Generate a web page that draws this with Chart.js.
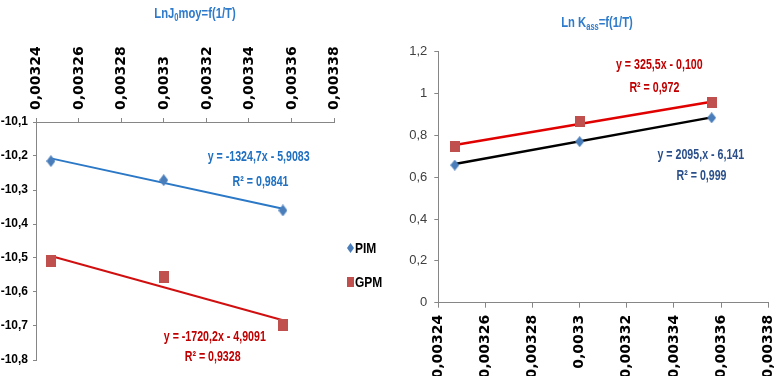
<!DOCTYPE html>
<html>
<head>
<meta charset="utf-8">
<script src="https://cdn.jsdelivr.net/npm/chart.js@4/dist/chart.umd.min.js"></script>
<style>
  html, body { margin: 0; padding: 0; background: #fff; width: 784px; height: 376px; overflow: hidden; }
  #wrap { position: relative; width: 784px; height: 376px; }
  canvas { position: absolute; top: 0; }
  #c1 { left: 0; }
  #c2 { left: 392px; }
  .title { position: absolute; transform: translate(-50%, -50%) scaleX(0.75); white-space: nowrap;
           font-family: 'Liberation Sans', Arial, sans-serif;
           font-weight: bold; font-size: 15px; color: #2E7BCB; }
  .title sub { font-size: 10px; vertical-align: -3px; }
  .leg { position: absolute; font-family: 'Liberation Sans', Arial, sans-serif; transform: scaleX(0.8); transform-origin: 0 50%;
         font-weight: bold; font-size: 15px; color: #000; line-height: 16px; }
  .mk { position: absolute; }
</style>
</head>
<body>
<div id="wrap">
  <canvas id="c1" width="395" height="376"></canvas>
  <canvas id="c2" width="400" height="376"></canvas>
  <div class="title" style="left:195px; top:13px;">LnJ<sub>0</sub>moy=f(1/T)</div>
  <div class="title" style="left:597px; top:22px;">Ln K<sub>ass</sub>=f(1/T)</div>
  <svg class="mk" style="left:347px; top:243px;" width="7" height="10"><polygon points="3.5,0 7,5 3.5,10 0,5" fill="#4A7EBB"/></svg>
  <div class="leg" style="left:355px; top:240px;">PIM</div>
  <svg class="mk" style="left:347px; top:277px;" width="7" height="10"><rect x="0" y="0" width="7" height="10" fill="#C0504D"/></svg>
  <div class="leg" style="left:355px; top:274px;">GPM</div>
</div>
<script>
// ---- data ----
const invT = [0.003247, 0.0033, 0.003356];            // 1/T
const xTicks = [0.00324, 0.00326, 0.00328, 0.0033, 0.00332, 0.00334, 0.00336, 0.00338];

// Left chart: LnJ0moy = f(1/T)
const pimLnJ0 = [-10.215, -10.271, -10.36];
const gpmLnJ0 = [-10.51, -10.557, -10.697];
const pimLnJ0Trend = [-10.207, -10.355];
const gpmLnJ0Trend = [-10.494, -10.683];
const leftYTicks = [-10.1, -10.2, -10.3, -10.4, -10.5, -10.6, -10.7, -10.8];

// Right chart: Ln Kass = f(1/T)
const pimLnK = [0.658, 0.77, 0.884];
const gpmLnK = [0.748, 0.868, 0.958];
const pimLnKTrend = [0.663, 0.886];
const gpmLnKTrend = [0.754, 0.961];
const rightYTicks = [0, 0.2, 0.4, 0.6, 0.8, 1, 1.2];

const seriesNames = ['PIM', 'GPM'];
const eqLeft = ['y = -1324,7x - 5,9083', 'R² = 0,9841', 'y = -1720,2x - 4,9091', 'R² = 0,9328'];
const eqRight = ['y = 325,5x - 0,100', 'R² = 0,972', 'y = 2095,x - 6,141', 'R² = 0,999'];

// ---- helpers ----
const sans = "'Liberation Sans', Arial, sans-serif";
const wide = "'DejaVu Sans', Verdana, sans-serif";
function diamond(w, h, color) {
  const c = document.createElement('canvas'); c.width = w; c.height = h;
  const g = c.getContext('2d');
  g.beginPath(); g.moveTo(w / 2, 0); g.lineTo(w, h / 2); g.lineTo(w / 2, h); g.lineTo(0, h / 2); g.closePath();
  g.fillStyle = color; g.fill();
  return c;
}
function square(w, h, color) {
  const c = document.createElement('canvas'); c.width = w; c.height = h;
  const g = c.getContext('2d'); g.fillStyle = color; g.fillRect(0, 0, w, h);
  return c;
}
const pts = (ys) => invT.map((x, i) => ({ x: x, y: ys[i] }));
const trend = (ys) => [{ x: invT[0], y: ys[0] }, { x: invT[invT.length - 1], y: ys[1] }];
const fmtX = (v) => String(Number(Number(v).toFixed(5))).replace('.', ',');
const fmtY = (v) => String(Number(Number(v).toFixed(1))).replace('.', ',');

function labelPlugin(labels) {
  return {
    id: 'eqLabels',
    afterDatasetsDraw(chart) {
      const { ctx, scales } = chart;
      labels.forEach(l => {
        ctx.save();
        ctx.font = 'bold 14px ' + sans;
        ctx.textAlign = 'center';
        ctx.textBaseline = 'middle';
        ctx.fillStyle = l.color;
        ctx.translate(scales.x.getPixelForValue(l.x), scales.y.getPixelForValue(l.y));
        ctx.scale(0.76, 1);
        ctx.fillText(l.text, 0, 0);
        ctx.restore();
      });
    }
  };
}

const axisGray = '#868686';

// ---- left chart ----
new Chart(document.getElementById('c1'), {
  type: 'scatter',
  data: {
    datasets: [
      { label: seriesNames[0], data: pts(pimLnJ0), pointStyle: diamond(9, 12, '#4A7EBB'), order: 1 },
      { label: seriesNames[1], data: pts(gpmLnJ0), pointStyle: square(10, 12, '#C0504D'), order: 1 },
      { label: 'trend PIM', data: trend(pimLnJ0Trend), showLine: true, pointRadius: 0, borderColor: '#2B78C6', borderWidth: 2, order: 2 },
      { label: 'trend GPM', data: trend(gpmLnJ0Trend), showLine: true, pointRadius: 0, borderColor: '#D01010', borderWidth: 2, order: 2 }
    ]
  },
  options: {
    responsive: false, animation: false, devicePixelRatio: 1,
    layout: { padding: { left: 0, top: 0, right: 61, bottom: 16 } },
    plugins: { legend: { display: false }, tooltip: { enabled: false } },
    scales: {
      x: {
        type: 'linear', position: 'top', min: 0.00324, max: 0.00338,
        afterBuildTicks: s => { s.ticks = xTicks.map(v => ({ value: v })); },
        afterFit: s => { s.height = 122; },
        grid: { drawOnChartArea: false, drawTicks: true, tickLength: 4, color: axisGray },
        border: { display: true, color: axisGray, width: 1 },
        ticks: { minRotation: 90, maxRotation: 90, padding: 8, labelOffset: 17.5, color: '#000', autoSkip: false,
                 font: { family: wide, weight: 'bold', size: 14 }, callback: fmtX }
      },
      y: {
        type: 'linear', min: -10.8, max: -10.1,
        afterBuildTicks: s => { s.ticks = leftYTicks.map(v => ({ value: v })); },
        afterFit: s => { s.width = 36; },
        grid: { drawOnChartArea: false, drawTicks: true, tickLength: 3, color: axisGray },
        border: { display: true, color: axisGray, width: 1 },
        ticks: { padding: 5, color: '#000', font: { family: sans, weight: 'bold', size: 12 }, callback: fmtY }
      }
    }
  },
  plugins: [labelPlugin([
    { text: eqLeft[0], x: 0.0033446, y: -10.204, color: '#1F70C1' },
    { text: eqLeft[1], x: 0.0033455, y: -10.278, color: '#1F70C1' },
    { text: eqLeft[2], x: 0.003324, y: -10.733, color: '#C00000' },
    { text: eqLeft[3], x: 0.003323, y: -10.792, color: '#C00000' }
  ])]
});

// ---- right chart ----
new Chart(document.getElementById('c2'), {
  type: 'scatter',
  data: {
    datasets: [
      { label: seriesNames[0], data: pts(pimLnK), pointStyle: diamond(9, 11, '#4A7EBB'), order: 1 },
      { label: seriesNames[1], data: pts(gpmLnK), pointStyle: square(10, 11, '#C0504D'), order: 1 },
      { label: 'trend PIM', data: trend(pimLnKTrend), showLine: true, pointRadius: 0, borderColor: '#000000', borderWidth: 2.5, order: 2 },
      { label: 'trend GPM', data: trend(gpmLnKTrend), showLine: true, pointRadius: 0, borderColor: '#E00000', borderWidth: 2.5, order: 2 }
    ]
  },
  options: {
    responsive: false, animation: false, devicePixelRatio: 1,
    layout: { padding: { left: 0, top: 51.7, right: 15.3, bottom: 0 } },
    plugins: { legend: { display: false }, tooltip: { enabled: false } },
    scales: {
      x: {
        type: 'linear', position: 'bottom', min: 0.00324, max: 0.00338,
        afterBuildTicks: s => { s.ticks = xTicks.map(v => ({ value: v })); },
        afterFit: s => { s.height = 73.3; },
        grid: { drawOnChartArea: false, drawTicks: true, tickLength: 5, color: axisGray },
        border: { display: true, color: axisGray, width: 1 },
        ticks: { minRotation: 90, maxRotation: 90, padding: 7, color: '#000', autoSkip: false,
                 font: { family: wide, weight: 'bold', size: 14 }, callback: fmtX }
      },
      y: {
        type: 'linear', min: 0, max: 1.2,
        afterBuildTicks: s => { s.ticks = rightYTicks.map(v => ({ value: v })); },
        afterFit: s => { s.width = 46.3; },
        grid: { drawOnChartArea: false, drawTicks: true, tickLength: 4, color: axisGray },
        border: { display: true, color: axisGray, width: 1 },
        ticks: { padding: 7, color: '#404040', font: { family: sans, size: 13 }, callback: fmtY }
      }
    }
  },
  plugins: [labelPlugin([
    { text: eqRight[0], x: 0.0033338, y: 1.136, color: '#C00000' },
    { text: eqRight[1], x: 0.0033317, y: 1.026, color: '#C00000' },
    { text: eqRight[2], x: 0.0033514, y: 0.706, color: '#2A4F8A' },
    { text: eqRight[3], x: 0.0033517, y: 0.606, color: '#2A4F8A' }
  ])]
});
</script>
</body>
</html>
